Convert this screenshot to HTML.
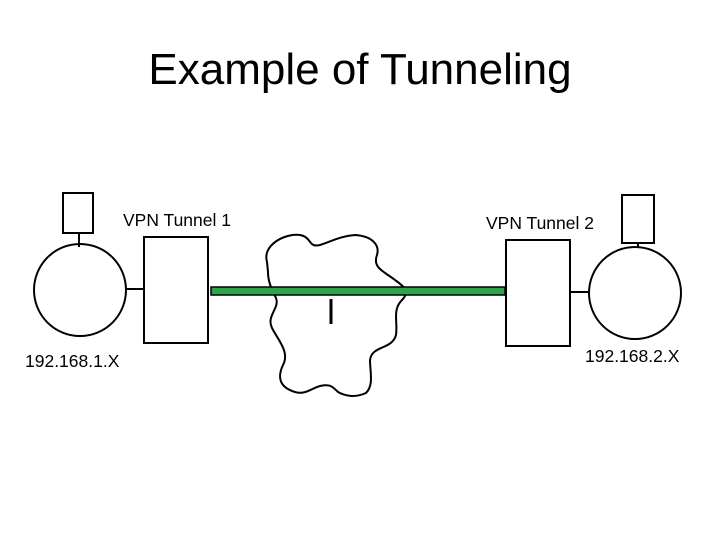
<!DOCTYPE html>
<html><head><style>
html,body{margin:0;padding:0;background:#fff;}
</style></head><body>
<svg width="720" height="540" xmlns="http://www.w3.org/2000/svg" style="display:block">
<rect width="720" height="540" fill="#fff"/>
<text x="360" y="84" text-anchor="middle" font-family="Liberation Sans, sans-serif" font-size="44" fill="#000">Example of Tunneling</text>
<g fill="none" stroke="#000" stroke-width="2">
<rect x="63" y="193" width="30" height="40"/>
<line x1="79" y1="233" x2="79" y2="247"/>
<circle cx="80" cy="290" r="46"/>
<line x1="126" y1="289" x2="144" y2="289"/>
<rect x="144" y="237" width="64" height="106"/>
<path d="M267,262 C262,245 285,233 300,235 C312,237 308,248 320,245 C330,242 340,236 355,235 C372,236 380,245 377,255 C372,268 385,272 395,280 C405,287 410,292 402,300 C392,310 398,322 396,335 C392,350 372,345 370,360 C370,372 374,385 366,393 C355,398 345,396 338,392 C332,386 330,384 320,386 C310,389 305,395 295,392 C282,388 276,380 283,365 C290,352 278,340 272,328 C266,316 280,308 276,298 C272,290 268,282 268,272 Z"/>
<rect x="506" y="240" width="64" height="106"/>
<line x1="570" y1="292" x2="589" y2="292"/>
<circle cx="635" cy="293" r="46"/>
<line x1="638" y1="243" x2="638" y2="248"/>
<rect x="622" y="195" width="32" height="48"/>
</g>
<rect x="211" y="287" width="294" height="8" fill="#2ea34a" stroke="#000" stroke-width="1.5"/>
<line x1="331" y1="299" x2="331" y2="324" stroke="#000" stroke-width="3"/>
<g font-family="Liberation Sans, sans-serif" font-size="17.5" fill="#000">
<text x="123" y="226">VPN Tunnel 1</text>
<text x="25" y="367">192.168.1.X</text>
<text x="486" y="229">VPN Tunnel 2</text>
<text x="585" y="362">192.168.2.X</text>
</g>
</svg>
</body></html>
